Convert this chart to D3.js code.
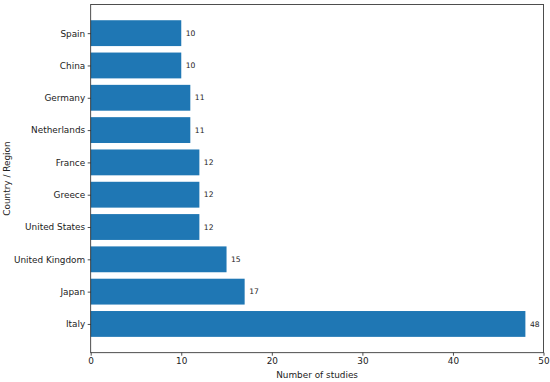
<!DOCTYPE html>
<html>
<head>
<meta charset="utf-8">
<script src="https://cdn.jsdelivr.net/npm/d3@7"></script>
<style>
  body { margin: 0; background: #fff; }
  text { font-family: "DejaVu Sans", sans-serif; fill: #222; }
</style>
</head>
<body>
<div class="chart"></div>
<script>
// bottom to top, as in the picture
var countries = ['Italy', 'Japan', 'United Kingdom', 'United States', 'Greece',
                 'France', 'Netherlands', 'Germany', 'China', 'Spain'];
var studies = [48, 17, 15, 12, 12, 12, 11, 11, 10, 10];
var xTicks = [0, 10, 20, 30, 40, 50];

var margin = { top: 4.4, right: 6.5, bottom: 29.3, left: 90.7 };
var width = 550 - margin.left - margin.right;
var height = 382 - margin.top - margin.bottom;

var svg = d3.select('.chart')
  .append('svg')
    .attr('width', 550)
    .attr('height', 382)
  .append('g')
    .attr('transform', 'translate(' + margin.left + ', ' + margin.top + ')');

var data = countries.map((c, i) => ({ name: c, value: studies[i], idx: i }));

var xScale = d3.scaleLinear()
    .domain([0, 50])
    .range([0, width]);

// matplotlib style: bars of height 0.8 centred on integer positions, 5% margins
var n = countries.length;
var lo = -0.4, hi = n - 1 + 0.4, pad = (hi - lo) * 0.05;
var yScale = d3.scaleLinear()
    .domain([lo - pad, hi + pad])
    .range([height, 0]);

svg.selectAll('.bar')
  .data(data)
  .enter()
  .append('rect')
    .attr('class', 'bar')
    .attr('x', xScale(0))
    .attr('y', d => yScale(d.idx + 0.4))
    .attr('width', d => xScale(d.value) - xScale(0))
    .attr('height', d => yScale(d.idx - 0.4) - yScale(d.idx + 0.4))
    .style('fill', '#1f77b4');

// value labels
svg.selectAll('.val')
  .data(data)
  .enter()
  .append('text')
    .attr('class', 'val')
    .attr('x', d => xScale(d.value) + 4.5)
    .attr('y', d => yScale(d.idx))
    .attr('dy', '0.35em')
    .style('font-size', '7.6px')
    .text(d => d.value);

// frame
svg.append('rect')
    .attr('width', width)
    .attr('height', height)
    .attr('fill', 'none')
    .attr('stroke', '#222')
    .attr('stroke-width', 0.8);

var xAxis = d3.axisBottom(xScale)
    .tickValues(xTicks)
    .tickSize(3)
    .tickPadding(2);
var gx = svg.append('g')
    .attr('transform', `translate(0, ${height})`)
    .call(xAxis);

var yAxis = d3.axisLeft(yScale)
    .tickValues(d3.range(n))
    .tickFormat(i => countries[i])
    .tickSize(3)
    .tickPadding(2.5);
var gy = svg.append('g').call(yAxis);

[gx, gy].forEach(g => {
  g.select('.domain').remove();
  g.selectAll('.tick line').attr('stroke', '#222').attr('stroke-width', 0.8);
  g.selectAll('.tick text')
    .style('font-family', '"DejaVu Sans", sans-serif')
    .style('font-size', '8.9px')
    .attr('fill', '#222');
});

// text label for x axis
svg.append('text')
    .attr('x', width / 2)
    .attr('y', height + 25.8)
    .style('text-anchor', 'middle')
    .style('font-size', '8.9px')
    .text('Number of studies');

// text label for y axis
svg.append('text')
    .attr('transform', 'rotate(-90)')
    .attr('x', -height / 2)
    .attr('y', -margin.left + 9.5)
    .style('text-anchor', 'middle')
    .style('font-size', '8.9px')
    .text('Country / Region');
</script>
</body>
</html>
